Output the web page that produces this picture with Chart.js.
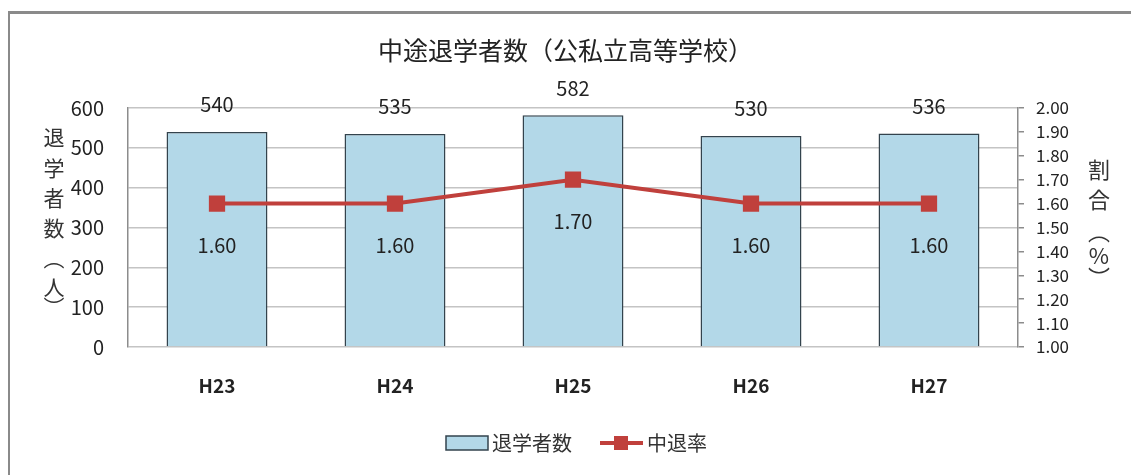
<!DOCTYPE html>
<html>
<head>
<meta charset="utf-8">
<script src="https://cdn.jsdelivr.net/npm/chart.js@4/dist/chart.umd.min.js"></script>
<style>
  html, body { margin: 0; padding: 0; background: #fff; }
  #wrap { position: relative; width: 1131px; height: 475px; overflow: hidden; }
  #c { position: absolute; left: 0; top: 0; }
  #frame { position: absolute; left: 8px; top: 11px; width: 1140px; height: 480px;
           border-left: 2px solid #8a8a8a; border-top: 3px solid #8a8a8a; pointer-events: none; }
</style>
</head>
<body>
<div id="wrap">
  <canvas id="c" width="1131" height="475"></canvas>
  <div id="frame"></div>
</div>
<script>
const titleText = '中途退学者数（公私立高等学校）';
const categories = ['H23', 'H24', 'H25', 'H26', 'H27'];
const dropouts = [540, 535, 582, 530, 536];
const rates = [1.60, 1.60, 1.70, 1.60, 1.60];
const barLabel = '退学者数';
const lineLabel = '中退率';
const leftTitleChars = ['退', '学', '者', '数', '︵', '人', '︶'];
const rightTitleChars = ['割', '合', '︵', '%', '︶'];

const FONT = '"Noto Sans CJK JP", "Noto Sans", sans-serif';
const TXT = '#222';
const BAR_FILL = '#b3d8e8';
const BAR_EDGE = '#33434d';
const RED = '#c0403c';

const customDraw = {
  id: 'customDraw',
  afterDatasetsDraw(chart) {
    const ctx = chart.ctx;
    ctx.save();
    ctx.fillStyle = TXT;
    ctx.textAlign = 'center';
    ctx.textBaseline = 'middle';
    ctx.font = '20px ' + FONT;
    // bar value labels
    chart.getDatasetMeta(0).data.forEach((el, i) => {
      ctx.fillText(String(dropouts[i]), el.x, el.y - 27);
    });
    // line value labels
    chart.getDatasetMeta(1).data.forEach((el, i) => {
      ctx.fillText(rates[i].toFixed(2), el.x, el.y + 42);
    });
    // left axis title (vertical stacked)
    ctx.font = '21px ' + FONT;
    ctx.fillStyle = '#333';
    const lyPos = [137, 168, 198, 228, 258, 287, 307];
    leftTitleChars.forEach((ch, i) => ctx.fillText(ch, 54, lyPos[i]));
    ctx.font = '22px ' + FONT;
    const ryPos = [170, 200, 232, 256, 278];
    rightTitleChars.forEach((ch, i) => ctx.fillText(ch, 1099, ryPos[i]));
    // legend
    const ly = 443;
    ctx.fillStyle = BAR_FILL;
    ctx.strokeStyle = BAR_EDGE;
    ctx.lineWidth = 1.5;
    ctx.fillRect(446, ly - 7, 42, 14);
    ctx.strokeRect(446, ly - 7, 42, 14);
    ctx.fillStyle = '#333';
    ctx.textAlign = 'left';
    ctx.font = '20px ' + FONT;
    ctx.fillText(barLabel, 492, ly);
    ctx.strokeStyle = RED;
    ctx.lineWidth = 4;
    ctx.beginPath();
    ctx.moveTo(600, ly);
    ctx.lineTo(643, ly);
    ctx.stroke();
    ctx.fillStyle = RED;
    ctx.fillRect(614, ly - 7, 14, 14);
    ctx.fillStyle = '#333';
    ctx.fillText(lineLabel, 647, ly);
    ctx.restore();
  }
};

new Chart(document.getElementById('c'), {
  data: {
    labels: categories,
    datasets: [
      {
        type: 'bar',
        label: barLabel,
        data: dropouts,
        yAxisID: 'y',
        backgroundColor: BAR_FILL,
        borderColor: BAR_EDGE,
        borderWidth: 1.5,
        categoryPercentage: 1,
        barPercentage: 0.567,
        order: 2
      },
      {
        type: 'line',
        label: lineLabel,
        data: rates,
        yAxisID: 'y1',
        borderColor: RED,
        backgroundColor: RED,
        borderWidth: 4,
        pointStyle: 'rect',
        pointRadius: 11.5,
        pointBackgroundColor: RED,
        pointBorderColor: RED,
        pointBorderWidth: 0,
        tension: 0,
        order: 1
      }
    ]
  },
  options: {
    responsive: false,
    animation: false,
    layout: { padding: { left: 0, right: 0, top: 0, bottom: 62 } },
    plugins: {
      legend: { display: false },
      tooltip: { enabled: false },
      title: {
        display: true,
        text: titleText,
        color: TXT,
        font: { family: FONT, size: 25, weight: 'normal' },
        padding: { top: 35, bottom: 43 }
      }
    },
    scales: {
      x: {
        grid: { display: false },
        border: { display: false },
        ticks: { color: TXT, font: { family: FONT, size: 19, weight: 'bold' }, padding: 19 },
        afterFit(scale) { scale.height = 66; }
      },
      y: {
        position: 'left',
        min: 0,
        max: 600,
        ticks: { stepSize: 100, color: TXT, font: { family: FONT, size: 20 }, padding: 24 },
        grid: { color: '#c4c4c4', lineWidth: 1.5, drawTicks: false },
        border: { color: '#8c8c8c', width: 1.5 },
        afterFit(scale) { scale.width = 128; }
      },
      y1: {
        position: 'right',
        min: 1.0,
        max: 2.0,
        ticks: {
          stepSize: 0.1,
          color: TXT,
          font: { family: FONT, size: 17 },
          padding: 12,
          callback: (v) => Number(v).toFixed(2)
        },
        grid: { drawOnChartArea: false, tickLength: 6, color: '#8c8c8c', lineWidth: 1.5 },
        border: { color: '#8c8c8c', width: 1.5 },
        afterFit(scale) { scale.width = 113; }
      }
    }
  },
  plugins: [customDraw]
});
</script>
</body>
</html>
